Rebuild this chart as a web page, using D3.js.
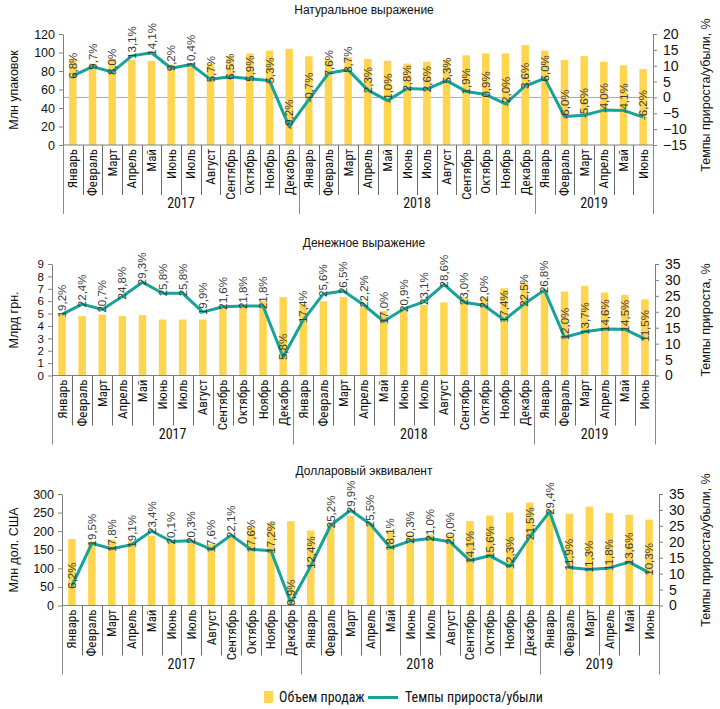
<!DOCTYPE html>
<html><head><meta charset="utf-8">
<script src="https://cdn.jsdelivr.net/npm/d3@7"></script>
<style>body{margin:0;background:#fff} svg{display:block}</style>
</head><body><svg id="c" width="720" height="709"></svg>
<script>
const months = ["Январь","Февраль","Март","Апрель","Май","Июнь","Июль","Август","Сентябрь","Октябрь","Ноябрь","Декабрь",
  "Январь","Февраль","Март","Апрель","Май","Июнь","Июль","Август","Сентябрь","Октябрь","Ноябрь","Декабрь",
  "Январь","Февраль","Март","Апрель","Май","Июнь"];
const yearLabels = ["2017","2018","2019"];
const yearSizes = [12,12,6];

const unitsSales  = [93,88,93,92,91,87,85,88,96,99,102,104, 96,93,95,93,91,88,90,92,97,99,99,108, 102,92,96,90,86,82];
const unitsGrowth = [6.8,9.7,8.0,13.1,14.1,9.2,10.4,5.7,6.5,5.9,5.3,-9.2, -0.7,7.6,8.7,2.3,-1.0,2.8,2.6,5.3,1.9,0.9,-2.0,3.6, 6.0,-6.0,-5.6,-4.0,-4.1,-6.2];
const uahSales  = [4.93,4.79,4.9,4.79,4.87,4.52,4.52,4.52,5.45,5.7,6.0,6.34, 5.74,6.0,6.34,5.5,5.2,5.3,5.7,5.9,6.3,6.3,7.04,7.5, 6.95,6.78,7.23,6.69,6.5,6.15];
const uahGrowth = [19.2,22.4,20.7,24.8,29.3,25.8,25.8,19.9,21.6,21.8,21.8,5.8, 17.4,25.6,26.5,22.2,17.0,20.9,23.1,28.6,23.0,22.0,17.4,22.5, 26.8,12.0,13.7,14.6,14.5,11.5];
const usdSales  = [179,172,177,173,188,173,173,165,190,212,223,227, 202,220,241,222,200,191,191,190,227,242,250,277, 257,247,266,249,244,231];
const usdGrowth = [6.2,19.5,17.8,19.1,23.4,20.1,20.3,17.6,22.1,17.6,17.2,0.9, 12.4,25.2,29.9,25.5,18.1,20.3,21.0,20.0,14.1,15.6,12.3,21.5, 29.4,11.9,11.3,11.8,13.6,10.3];

const unitsLeftTicks  = [0,20,40,60,80,100,120];
const unitsRightTicks = [-15,-10,-5,0,5,10,15,20];
const uahLeftTicks    = [0,1,2,3,4,5,6,7,8,9];
const uahRightTicks   = [0,5,10,15,20,25,30,35];
const usdLeftTicks    = [0,50,100,150,200,250,300];
const usdRightTicks   = [0,5,10,15,20,25,30,35];

const YEL = "#FFD54F", TEAL = "#17A398";
const NARROW = "'Liberation Sans Narrow','Arial Narrow','Roboto Condensed','Liberation Sans',sans-serif";
const REG = "'Liberation Sans',Arial,sans-serif";
const svg = d3.select("#c");

function fmt(v){ return (v<0?"-":"") + Math.abs(v).toFixed(1).replace(".",",") + "%"; }

function panel(o){
  const g = svg.append("g");
  const x = d3.scaleBand().domain(d3.range(months.length)).range([o.x0,o.x1]);
  const yL = d3.scaleLinear().domain([o.leftTicks[0], o.leftTicks[o.leftTicks.length-1]]).range([o.yb,o.yt]);
  const yR = d3.scaleLinear().domain([o.rightTicks[0], o.rightTicks[o.rightTicks.length-1]]).range([o.yb,o.yt]);
  const bw = 7.5;

  g.append("text").attr("x",364).attr("y",o.titleY).attr("text-anchor","middle")
    .attr("font-family",REG).attr("font-size",12).attr("fill","#111").text(o.title);

  if (o.zeroLine) g.append("line").attr("x1",o.x0).attr("x2",o.x1).attr("y1",yR(0)).attr("y2",yR(0))
    .attr("stroke","#a8a8a8").attr("stroke-width",1);

  g.append("g").selectAll("rect").data(o.sales).join("rect")
    .attr("x",(d,i)=>x(i)+x.bandwidth()/2-bw/2).attr("width",bw)
    .attr("y",d=>yL(d)).attr("height",d=>yL(0)-yL(d)).attr("fill",YEL);

  const la = g.append("g").attr("transform",`translate(${o.x0},0)`)
    .call(d3.axisLeft(yL).tickValues(o.leftTicks).tickSize(4).tickSizeOuter(0).tickPadding(4));
  const ra = g.append("g").attr("transform",`translate(${o.x1},0)`)
    .call(d3.axisRight(yR).tickValues(o.rightTicks).tickSize(4).tickSizeOuter(0).tickPadding(6));
  [la,ra].forEach(a=>{ a.selectAll("path,line").attr("stroke","#808080"); a.selectAll("text").attr("fill","#111").attr("font-family",REG); });
  la.selectAll("text").attr("font-size",o.leftFont);
  ra.selectAll("text").attr("font-size",14);

  g.append("line").attr("x1",o.x0).attr("x2",o.x1).attr("y1",yL(0)).attr("y2",yL(0)).attr("stroke","#808080");
  const base = yL(0);
  const sep = g.append("g");
  d3.range(months.length+1).forEach(i=>{
    const xx = i<months.length ? x(i) : o.x1;
    sep.append("line").attr("x1",Math.round(xx)+0.5).attr("x2",Math.round(xx)+0.5).attr("y1",base).attr("y2",base+50)
      .attr("stroke","#6a6a6a").attr("stroke-width",1);
  });
  let start = 0;
  const ybs = [o.x0];
  yearSizes.forEach((n,k)=>{
    const xs = x(start), xe = start+n<months.length ? x(start+n) : o.x1;
    g.append("text").attr("x",(xs+xe)/2).attr("y",base+63).attr("text-anchor","middle")
      .attr("font-family",NARROW).attr("font-size",14).attr("fill","#111").text(yearLabels[k]);
    ybs.push(xe);
    start += n;
  });
  ybs.forEach(xx=>{
    g.append("line").attr("x1",Math.round(xx)+0.5).attr("x2",Math.round(xx)+0.5).attr("y1",base).attr("y2",base+69)
      .attr("stroke","#8a8a8a").attr("stroke-width",1);
  });
  g.append("g").selectAll("text").data(months).join("text")
    .attr("transform",(d,i)=>`translate(${x(i)+x.bandwidth()/2+4.5},${base+4}) rotate(-90)`)
    .attr("text-anchor","end").attr("font-family",NARROW).attr("font-size",13).attr("fill","#111").text(d=>d);

  const line = d3.line().x((d,i)=>x(i)+x.bandwidth()/2).y(d=>yR(d));
  g.append("path").datum(o.growth).attr("d",line).attr("fill","none").attr("stroke",TEAL)
    .attr("stroke-width",3).attr("stroke-linejoin","round");

  g.append("g").selectAll("text").data(o.growth).join("text")
    .attr("transform",(d,i)=>`translate(${x(i)+x.bandwidth()/2+4},${yR(d)+3}) rotate(-90)`)
    .attr("text-anchor","start").attr("font-family",REG).attr("font-size",11.5).attr("fill","#3a3a3a").text(d=>fmt(d));

  g.append("text").attr("transform",`translate(${o.ltX},${o.ltY}) rotate(-90)`).attr("text-anchor","middle")
    .attr("font-family",REG).attr("font-size",12.5).attr("fill","#111").attr("dy","0.35em").text(o.leftTitle);
  g.append("text").attr("transform",`translate(706,${o.rtY}) rotate(-90)`).attr("text-anchor","middle")
    .attr("font-family",REG).attr("font-size",12.5).attr("fill","#111").attr("dy","0.35em").text(o.rightTitle);
}

panel({title:"Натуральное выражение", titleY:14, x0:63, x1:653, yt:34, yb:145, leftFont:12.5,
  leftTicks:unitsLeftTicks, rightTicks:unitsRightTicks, sales:unitsSales, growth:unitsGrowth, zeroLine:true,
  leftTitle:"Млн упаковок", ltX:14, ltY:90, rightTitle:"Темпы прироста/убыли, %", rtY:95});
panel({title:"Денежное выражение", titleY:247, x0:52, x1:655, yt:264, yb:375.5, leftFont:11.5,
  leftTicks:uahLeftTicks, rightTicks:uahRightTicks, sales:uahSales, growth:uahGrowth, zeroLine:false,
  leftTitle:"Млрд грн.", ltX:14, ltY:320, rightTitle:"Темпы прироста, %", rtY:320});
panel({title:"Долларовый эквивалент", titleY:475, x0:62, x1:659, yt:494, yb:605.5, leftFont:12.5,
  leftTicks:usdLeftTicks, rightTicks:usdRightTicks, sales:usdSales, growth:usdGrowth, zeroLine:false,
  leftTitle:"Млн дол. США", ltX:14, ltY:550, rightTitle:"Темпы прироста/убыли, %", rtY:550});

const lg = svg.append("g");
lg.append("rect").attr("x",264).attr("y",691).attr("width",9).attr("height",12).attr("fill",YEL);
lg.append("text").attr("x",279).attr("y",702).attr("font-family",NARROW).attr("font-size",14).attr("fill","#111").text("Объем продаж");
lg.append("line").attr("x1",368).attr("x2",398).attr("y1",697.5).attr("y2",697.5).attr("stroke",TEAL).attr("stroke-width",3);
lg.append("text").attr("x",405).attr("y",702).attr("font-family",NARROW).attr("font-size",14).attr("fill","#111").text("Темпы прироста/убыли");
</script></body></html>
